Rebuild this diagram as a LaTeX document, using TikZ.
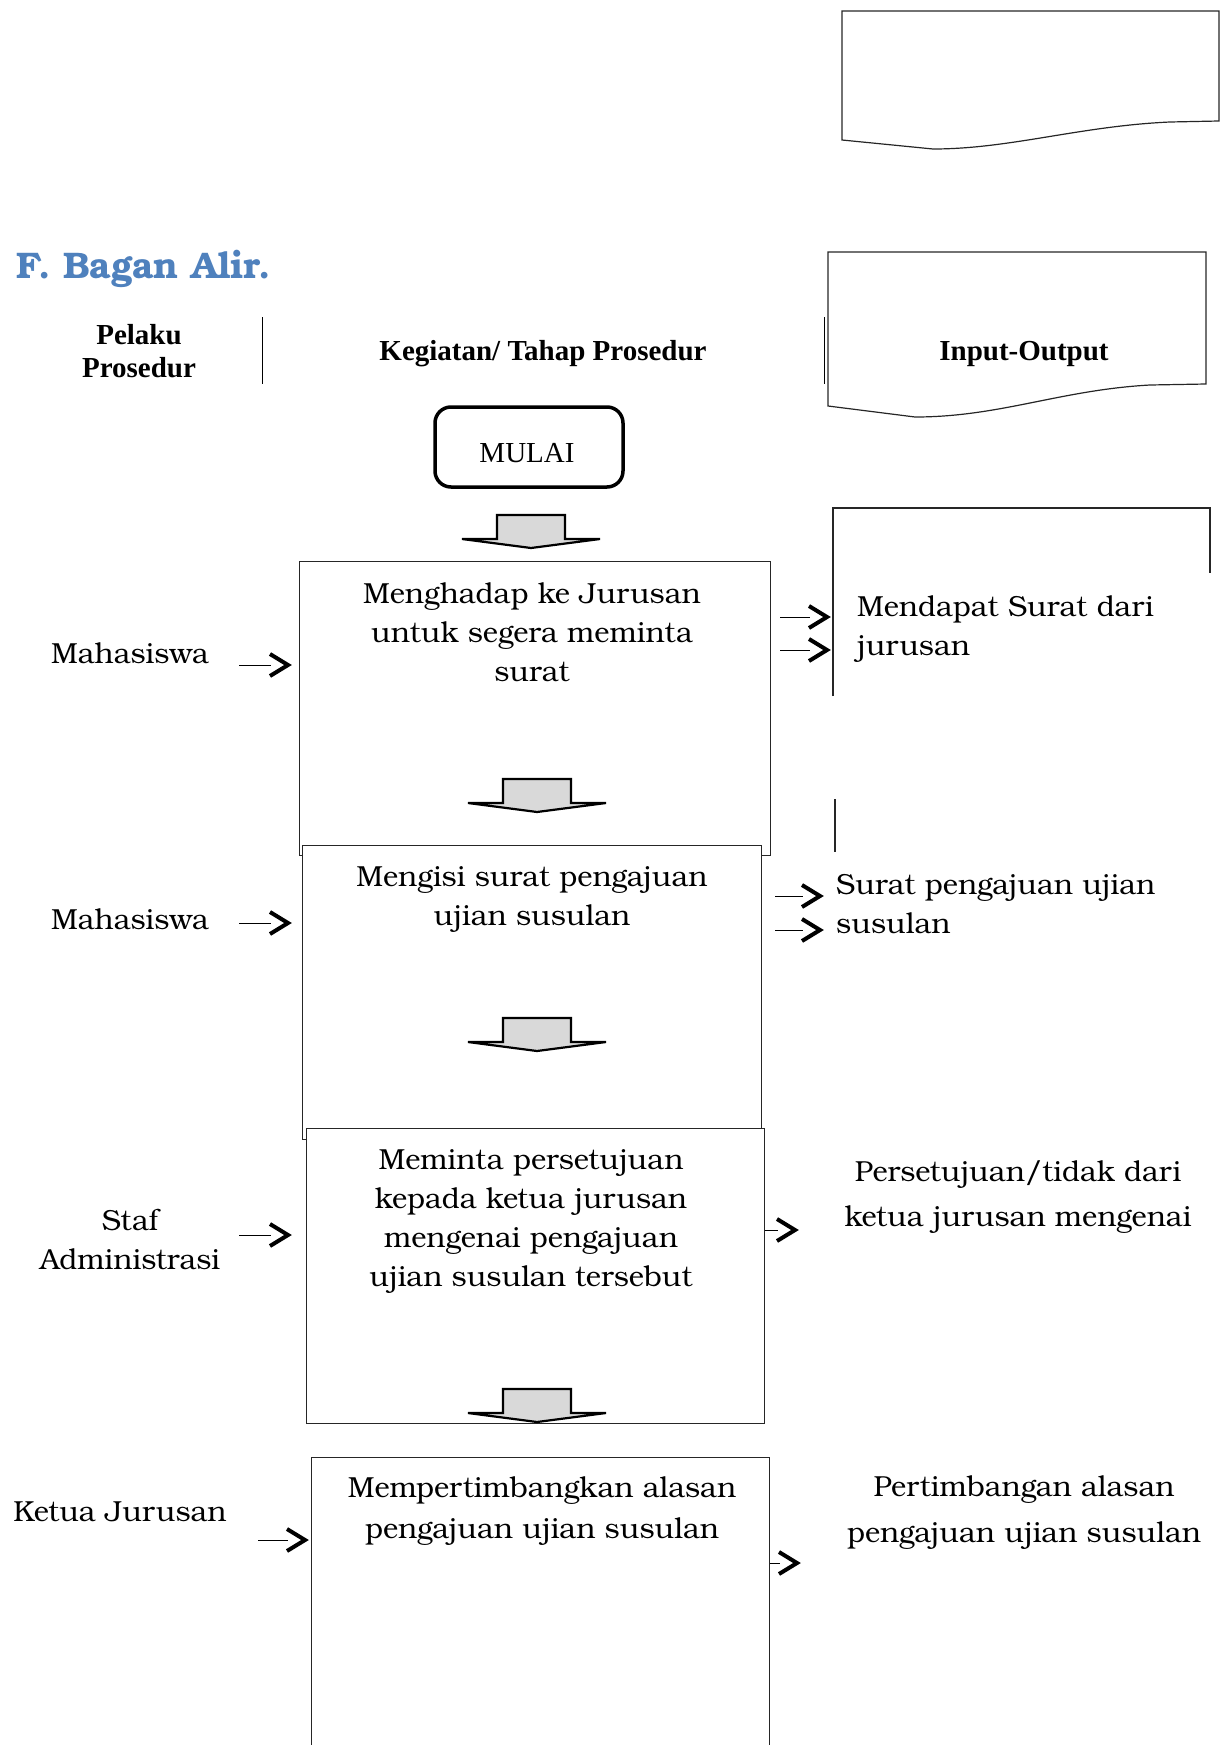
\documentclass[tikz,border=0pt]{standalone}
\usepackage{fontspec}
\setmainfont{Liberation Serif}
\newfontfamily\bk{TeX Gyre Bonum}
\usetikzlibrary{arrows.meta}
\definecolor{titleblue}{RGB}{79,129,189}
\definecolor{arrowgray}{RGB}{217,217,217}
\pgfdeclarearrow{
  name = Chev,
  setup code = {
    \pgfarrowssettipend{0pt}
    \pgfarrowssetlineend{-21pt}
    \pgfarrowssetbackend{-25pt}
    \pgfarrowshullpoint{0pt}{0pt}
    \pgfarrowsupperhullpoint{-25pt}{13pt}
  },
  drawing code = {
    \pgfsetlinewidth{4pt}
    \pgfsetmiterjoin
    \pgfsetbuttcap
    \pgfpathmoveto{\pgfqpoint{-22pt}{11pt}}
    \pgfpathlineto{\pgfqpoint{-4pt}{0pt}}
    \pgfpathlineto{\pgfqpoint{-22pt}{-11pt}}
    \pgfusepathqstroke
  }
}
\tikzset{
  box/.style={draw=black!85,line width=1.2pt,fill=white,inner sep=0pt,anchor=north west},
  txt/.style={font=\bk\fontsize{29}{39}\selectfont,align=center,inner sep=0pt},
  hd/.style={font=\bfseries\fontsize{29}{33}\selectfont,align=center,inner sep=0pt},
  arr/.style={line width=1pt,-{Chev}},
  doc/.style={draw=black!85,line width=1.2pt},
  barrow/.pic={\draw[line width=2.2pt,fill=arrowgray,line join=miter]
     (-34,0) -- (34,0) -- (34,24) -- (69,24) -- (0,33) -- (-69,24) -- (-34,24) -- cycle;}
}
\begin{document}
\begin{tikzpicture}[x=1pt,y=-1pt]
\useasboundingbox (0,0) rectangle (1221,1745);
\clip (0,0) rectangle (1221,1745);

% top document shape
\draw[doc] (842,11) -- (1219,11) -- (1219,121) -- (1170,122)
  .. controls (1080,126) and (1010,149) .. (933,149) -- (842,140) -- cycle;

% title
\node[anchor=west,inner sep=0pt,font=\bk\bfseries\fontsize{37}{40}\selectfont,text=titleblue] (title) at (16,269) {F. Bagan Alir.};

% header
\node[hd] (hpelaku) at (139,351) {Pelaku\\Prosedur};
\draw[line width=1pt] (262,317) -- (262,384);
\node[hd] (hkeg) at (543,354) {Kegiatan/ Tahap Prosedur};
\draw[line width=1pt] (824,317) -- (824,384);
\draw[doc] (828,252) -- (1206,252) -- (1206,384) -- (1150,385)
  .. controls (1060,390) and (1000,417) .. (915,417) -- (828,406) -- cycle;
\node[hd] (hio) at (1024,354) {Input-Output};

% start
\node[draw,line width=3.5pt,rounded corners=16pt,minimum width=188pt,minimum height=80pt,
  inner sep=0pt] (mulai) at (529,447) {};
\node[font=\fontsize{29}{33}\selectfont,inner sep=0pt] (tmulai) at (527,453) {MULAI};
\pic at (531,515) {barrow};

% box 1
\node[box,minimum width=471pt,minimum height=294pt] (b1) at (299,561) {};
\node[txt] (t1) at (532,632) {Menghadap ke Jurusan\\untuk segera meminta\\surat};
\pic at (537,779) {barrow};

% right fragments of document shapes
\draw[doc] (833,696) -- (833,508) -- (1210,508) -- (1210,573);
\draw[doc] (835,799) -- (835,852);

% box 2
\node[box,minimum width=459pt,minimum height=294pt] (b2) at (302,845) {};
\node[txt] (t2) at (532,899) {Mengisi surat pengajuan\\ujian susulan};
\pic at (537,1018) {barrow};

% box 3
\node[box,minimum width=458pt,minimum height=295pt] (b3) at (306,1128) {};
\node[txt] (t3) at (531,1221) {Meminta persetujuan\\kepada ketua jurusan\\mengenai pengajuan\\ujian susulan tersebut};
\pic at (537,1389) {barrow};

% box 4
\node[box,minimum width=458pt,minimum height=320pt] (b4) at (311,1457) {};
\node[txt,font=\bk\fontsize{29}{41}\selectfont] (t4) at (542,1511) {Mempertimbangkan alasan\\pengajuan ujian susulan};

% actors
\node[txt] (a1) at (130,653) {Mahasiswa};
\node[txt] (a2) at (130,919) {Mahasiswa};
\node[txt] (a3) at (130,1239) {Staf\\Administrasi};
\node[txt] (a4) at (120,1512) {Ketua Jurusan};

% outputs
\node[txt,anchor=west,align=left] (o1) at (857,629) {Mendapat Surat dari\\jurusan};
\node[txt,anchor=west,align=left] (o2) at (836,904) {Surat pengajuan ujian\\susulan};
\node[txt,font=\bk\fontsize{29}{45}\selectfont] (o3) at (1018,1197) {Persetujuan/tidak dari\\ketua jurusan mengenai};
\node[txt,font=\bk\fontsize{29}{46}\selectfont] (o4) at (1024,1513) {Pertimbangan alasan\\pengajuan ujian susulan};

% input arrows
\coordinate (c1) at (239,665);
\coordinate (c2) at (239,923);
\coordinate (c3) at (239,1235);
\coordinate (c4) at (258,1540);
\draw[arr,shorten >=7pt] (c1) -- (b1.west |- c1);
\draw[arr,shorten >=10pt] (c2) -- (b2.west |- c2);
\draw[arr,shorten >=14pt] (c3) -- (b3.west |- c3);
\draw[arr,shorten >=2pt] (c4) -- (b4.west |- c4);

% output arrows
\coordinate (d1) at (831,617);
\coordinate (d2) at (831,650);
\coordinate (d3) at (824,896);
\coordinate (d4) at (824,930);
\coordinate (d5) at (799,1230);
\coordinate (d6) at (801,1563);
\draw[arr,shorten <=9pt] (b1.east |- d1) -- (d1);
\draw[arr,shorten <=9pt] (b1.east |- d2) -- (d2);
\draw[arr,shorten <=13pt] (b2.east |- d3) -- (d3);
\draw[arr,shorten <=13pt] (b2.east |- d4) -- (d4);
\draw[arr] (b3.east |- d5) -- (d5);
\draw[arr] (b4.east |- d6) -- (d6);
\end{tikzpicture}
\end{document}
